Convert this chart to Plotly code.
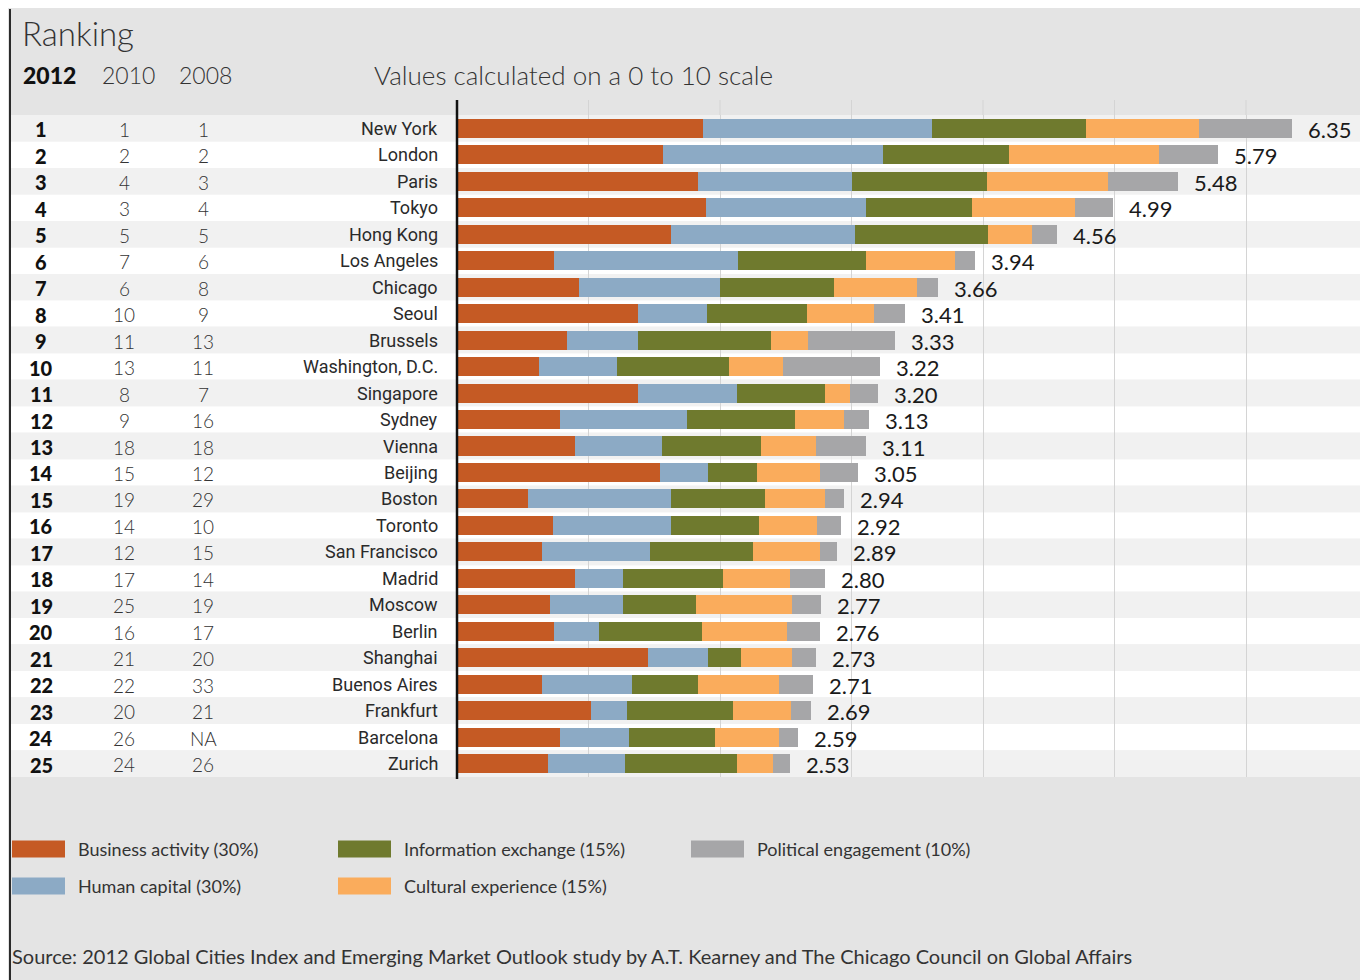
import plotly.graph_objects as go

# ---------------- data ----------------
cities = ["New York", "London", "Paris", "Tokyo", "Hong Kong", "Los Angeles", "Chicago",
          "Seoul", "Brussels", "Washington, D.C.", "Singapore", "Sydney", "Vienna", "Beijing",
          "Boston", "Toronto", "San Francisco", "Madrid", "Moscow", "Berlin", "Shanghai",
          "Buenos Aires", "Frankfurt", "Barcelona", "Zurich"]
rank_2012 = [str(i) for i in range(1, 26)]
rank_2010 = ["1", "2", "4", "3", "5", "7", "6", "10", "11", "13", "8", "9", "18", "15", "19",
             "14", "12", "17", "25", "16", "21", "22", "20", "26", "24"]
rank_2008 = ["1", "2", "3", "4", "5", "6", "8", "9", "13", "11", "7", "16", "18", "12", "29",
             "10", "15", "14", "19", "17", "20", "33", "21", "NA", "26"]

business = [1.87, 1.57, 1.83, 1.89, 1.63, 0.74, 0.93, 1.38, 0.84, 0.62, 1.38, 0.78, 0.90,
            1.54, 0.54, 0.73, 0.65, 0.90, 0.71, 0.74, 1.45, 0.65, 1.02, 0.78, 0.69]
human = [1.74, 1.67, 1.17, 1.22, 1.40, 1.40, 1.07, 0.52, 0.54, 0.60, 0.75, 0.97, 0.66,
         0.37, 1.09, 0.90, 0.82, 0.36, 0.55, 0.34, 0.46, 0.68, 0.27, 0.53, 0.59]
information = [1.17, 0.96, 1.03, 0.81, 1.01, 0.97, 0.87, 0.76, 1.01, 0.85, 0.67, 0.82, 0.75,
               0.37, 0.71, 0.67, 0.78, 0.76, 0.56, 0.78, 0.25, 0.50, 0.81, 0.65, 0.85]
cultural = [0.86, 1.14, 0.92, 0.78, 0.33, 0.68, 0.63, 0.51, 0.28, 0.41, 0.19, 0.37, 0.42,
            0.48, 0.46, 0.44, 0.51, 0.51, 0.73, 0.65, 0.39, 0.62, 0.44, 0.49, 0.27]
political = [0.71, 0.45, 0.53, 0.29, 0.19, 0.15, 0.16, 0.24, 0.66, 0.74, 0.21, 0.19, 0.38,
             0.29, 0.14, 0.18, 0.13, 0.27, 0.22, 0.25, 0.18, 0.26, 0.15, 0.14, 0.13]
totals = [6.35, 5.79, 5.48, 4.99, 4.56, 3.94, 3.66, 3.41, 3.33, 3.22, 3.20, 3.13, 3.11, 3.05,
          2.94, 2.92, 2.89, 2.80, 2.77, 2.76, 2.73, 2.71, 2.69, 2.59, 2.53]

series_names = ["Business activity (30%)", "Human capital (30%)", "Information exchange (15%)",
                "Cultural experience (15%)", "Political engagement (10%)"]
series_values = [business, human, information, cultural, political]
series_colors = ["#c55a24", "#8caac5", "#6f7a2e", "#faac5c", "#a6a6a8"]

grid_ticks = [1, 2, 3, 4, 5, 6]

title_text = "Ranking"
year_headers = ["2012", "2010", "2008"]
subtitle_text = "Values calculated on a 0 to 10 scale"
source_text = ("Source: 2012 Global Cities Index and Emerging Market Outlook study by "
               "A.T. Kearney and The Chicago Council on Global Affairs")

# ---------------- layout geometry ----------------
W, H = 1368, 980
OFF = 8  # page body margin
ML, MR, MT, MB = 446, 0, 107, 211
PW, PH = W - ML - MR, H - MT - MB
UNIT = 131.5  # pixels per unit
XMIN = -(449 - ML) / UNIT
XMAX = XMIN + PW / UNIT


def px(x):
    # x in screen pixels -> paper fraction
    return (x - OFF - ML) / PW


def py(y):
    # y in screen pixels -> paper fraction
    return (H - MB - (y - OFF)) / PH


FONT = "Lato"
CITY_FONT = "Roboto"

fig = go.Figure()
idx = list(range(len(cities)))
for name, vals, col in zip(series_names, series_values, series_colors):
    fig.add_trace(go.Bar(
        y=idx, x=vals, name=name, orientation="h",
        marker=dict(color=col, line=dict(width=0)),
        width=0.72, showlegend=False, hoverinfo="x+name",
    ))

shapes = []
# left dark border
shapes.append(dict(type="line", xref="paper", yref="paper", x0=px(10), x1=px(10),
                   y0=py(9), y1=py(H + OFF), line=dict(color="#2a2a2a", width=2),
                   layer="above"))
# alternating row bands
for i in idx:
    shapes.append(dict(type="rect", xref="paper", yref="y", x0=px(11), x1=1,
                       y0=i - 0.5, y1=i + 0.5,
                       fillcolor="#f1f1f1" if i % 2 == 0 else "#ffffff",
                       line_width=0, layer="below"))
# gridline extension into header
for t in grid_ticks:
    shapes.append(dict(type="line", xref="x", yref="paper", x0=t, x1=t, y0=1, y1=py(100),
                       line=dict(color="#d4d4d4", width=1), layer="below"))
# axis line at zero
shapes.append(dict(type="line", xref="x", yref="paper", x0=0, x1=0, y0=py(779), y1=py(100),
                   line=dict(color="#111111", width=2.5), layer="above"))

annotations = []
# title and headers
annotations.append(dict(text=title_text, xref="paper", yref="paper", x=px(20), y=py(33),
                        xanchor="left", yanchor="middle", showarrow=False,
                        font=dict(family=FONT, size=33, color="#333333", weight=300)))
hdr_x = [21, 100, 177]
for j, (h, hx) in enumerate(zip(year_headers, hdr_x)):
    annotations.append(dict(text=h, xref="paper", yref="paper", x=px(hx), y=py(75),
                            xanchor="left", yanchor="middle", showarrow=False,
                            font=dict(family=FONT, size=23,
                                      color="#111111" if j == 0 else "#333333",
                                      weight=900 if j == 0 else 300)))
annotations.append(dict(text=subtitle_text, xref="paper", yref="paper", x=px(372), y=py(75),
                        xanchor="left", yanchor="middle", showarrow=False,
                        font=dict(family=FONT, size=26, color="#333333", weight=300)))

# ranking columns and city names
for i in idx:
    annotations.append(dict(text=rank_2012[i], xref="paper", yref="y", x=px(41), y=i,
                            yshift=-1, xanchor="center", yanchor="middle", showarrow=False,
                            font=dict(family=FONT, size=20, color="#111111", weight=900)))
    annotations.append(dict(text=rank_2010[i], xref="paper", yref="y", x=px(124), y=i,
                            yshift=-1, xanchor="center", yanchor="middle", showarrow=False,
                            font=dict(family=FONT, size=19, color="#333333", weight=300)))
    annotations.append(dict(text=rank_2008[i], xref="paper", yref="y", x=px(203), y=i,
                            yshift=-1, xanchor="center", yanchor="middle", showarrow=False,
                            font=dict(family=FONT, size=19, color="#333333", weight=300)))
    annotations.append(dict(text=cities[i], xref="paper", yref="y", x=px(440), y=i,
                            xanchor="right", yanchor="middle", showarrow=False,
                            font=dict(family=CITY_FONT, size=18, color="#2a2a2a")))
    annotations.append(dict(text=f"{totals[i]:.2f}", xref="x", yref="y", x=totals[i], y=i,
                            xshift=14, yshift=-1, xanchor="left", yanchor="middle",
                            showarrow=False,
                            font=dict(family=FONT, size=22, color="#1a1a1a")))

# custom legend
leg_pos = [(12, 849), (12, 886), (338, 849), (338, 886), (691, 849)]
for name, col, (lx, ly) in zip(series_names, series_colors, leg_pos):
    shapes.append(dict(type="rect", xref="paper", yref="paper", x0=px(lx), x1=px(lx + 53),
                       y0=py(ly + 8.5), y1=py(ly - 8.5), fillcolor=col, line_width=0,
                       layer="above"))
    annotations.append(dict(text=name, xref="paper", yref="paper", x=px(lx + 64), y=py(ly),
                            xanchor="left", yanchor="middle", showarrow=False,
                            font=dict(family=FONT, size=18, color="#333333")))

annotations.append(dict(text=source_text, xref="paper", yref="paper", x=px(10), y=py(956),
                        xanchor="left", yanchor="middle", showarrow=False,
                        font=dict(family=FONT, size=20, color="#333333")))

fig.update_layout(
    width=W, height=H,
    margin=dict(l=ML, r=MR, t=MT, b=MB, pad=0),
    paper_bgcolor="#e4e4e4",
    plot_bgcolor="rgba(0,0,0,0)",
    barmode="stack",
    bargap=0.28,
    xaxis=dict(range=[XMIN, XMAX], tickvals=grid_ticks, showticklabels=False,
               showgrid=True, gridcolor="#d4d4d4", gridwidth=1, zeroline=False,
               showline=False, fixedrange=True),
    yaxis=dict(range=[len(cities) - 0.5, -0.5], showticklabels=False, showgrid=False,
               zeroline=False, showline=False, fixedrange=True),
    shapes=shapes,
    annotations=annotations,
    showlegend=False,
)

fig.write_html("out.html")
